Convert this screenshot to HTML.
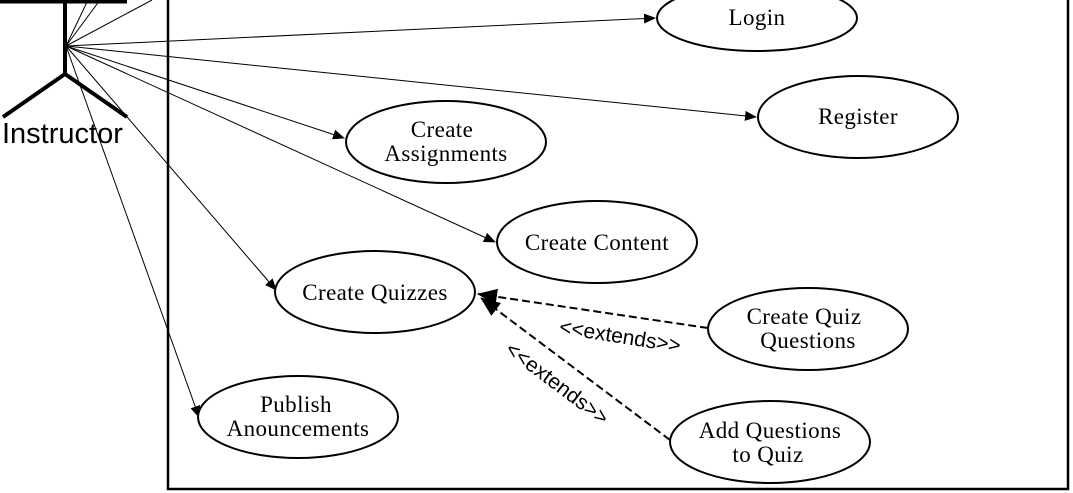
<!DOCTYPE html>
<html><head><meta charset="utf-8"><style>
html,body{margin:0;padding:0;background:#fff;}
svg{display:block;}
text{font-family:"Liberation Serif",serif;font-size:23px;letter-spacing:0.4px;fill:#000;}
.s{font-family:"Liberation Sans",sans-serif;letter-spacing:0;}
</style></head><body>
<svg width="1073" height="493" viewBox="0 0 1073 493" xmlns="http://www.w3.org/2000/svg">
<defs>
<marker id="a" markerWidth="12" markerHeight="10" refX="11" refY="5" orient="auto" markerUnits="userSpaceOnUse">
<path d="M0,0 L12,5 L0,10 z" fill="#000"/></marker>
<marker id="b" markerWidth="20" markerHeight="16" refX="19" refY="8" orient="auto" markerUnits="userSpaceOnUse">
<path d="M0,0 L20,8 L0,16 z" fill="#000"/></marker>
</defs>
<rect x="168" y="-10" width="900" height="499" fill="none" stroke="#000" stroke-width="2.5"/>
<line x1="0" y1="1" x2="127" y2="1" stroke="#000" stroke-width="5"/>
<line x1="65" y1="0" x2="65" y2="74" stroke="#000" stroke-width="4"/>
<line x1="65" y1="74" x2="3" y2="117" stroke="#000" stroke-width="4"/>
<line x1="65" y1="74" x2="127" y2="117" stroke="#000" stroke-width="4"/>
<text x="2" y="143" class="s" style="font-size:29px">Instructor</text>
<g stroke="#000" stroke-width="1">
<line x1="66" y1="46" x2="88" y2="0"/>
<line x1="66" y1="46" x2="100" y2="0"/>
<line x1="66" y1="46" x2="152" y2="0"/>
<line x1="66" y1="46" x2="655" y2="18" marker-end="url(#a)"/>
<line x1="66" y1="46" x2="756" y2="117" marker-end="url(#a)"/>
<line x1="66" y1="46" x2="344" y2="138" marker-end="url(#a)"/>
<line x1="66" y1="46" x2="495" y2="242" marker-end="url(#a)"/>
<line x1="66" y1="46" x2="276" y2="290" marker-end="url(#a)"/>
<line x1="66" y1="46" x2="199" y2="417" marker-end="url(#a)"/>
</g>
<g fill="#fff" stroke="#000" stroke-width="2">
<ellipse cx="757" cy="18" rx="100" ry="33"/>
<ellipse cx="858" cy="117" rx="100" ry="41"/>
<ellipse cx="446" cy="142" rx="100" ry="41"/>
<ellipse cx="597" cy="242" rx="100" ry="41"/>
<ellipse cx="375" cy="292" rx="100" ry="41"/>
<ellipse cx="808" cy="329" rx="100" ry="41"/>
<ellipse cx="298" cy="417" rx="100" ry="41"/>
<ellipse cx="770" cy="442" rx="100" ry="41"/>
</g>
<g stroke="#000" stroke-width="2" stroke-dasharray="8,4" fill="none">
<line x1="708" y1="328" x2="478" y2="294" marker-end="url(#b)"/>
<line x1="670" y1="440" x2="481" y2="298" marker-end="url(#b)"/>
</g>
<text x="619" y="343" class="s" transform="rotate(9 619 343)" text-anchor="middle" style="font-size:21px">&lt;&lt;extends&gt;&gt;</text>
<text x="553" y="389" class="s" transform="rotate(37 553 389)" text-anchor="middle" style="font-size:21px">&lt;&lt;extends&gt;&gt;</text>
<g text-anchor="middle">
<text x="757" y="25">Login</text>
<text x="858" y="124">Register</text>
<text x="442" y="137">Create</text>
<text x="446" y="161">Assignments</text>
<text x="597" y="250">Create Content</text>
<text x="375" y="300">Create Quizzes</text>
<text x="804" y="324">Create Quiz</text>
<text x="808" y="348">Questions</text>
<text x="296" y="412">Publish</text>
<text x="298" y="436">Anouncements</text>
<text x="770" y="438">Add Questions</text>
<text x="768" y="462">to Quiz</text>
</g>
</svg>
</body></html>
